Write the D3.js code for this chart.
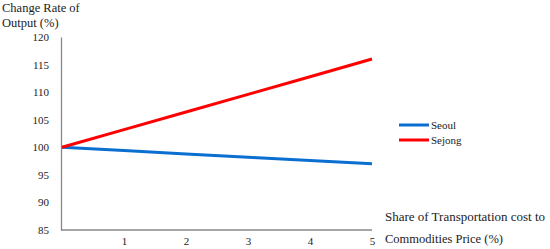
<!DOCTYPE html>
<html>
<head>
<script src="https://d3js.org/d3.v7.min.js"></script>
<style>
  body { margin: 0; background: #fff; }
  text { font-family: "Liberation Serif", "DejaVu Serif", serif; fill: #222; }
</style>
</head>
<body>
<svg id="chart" width="550" height="249"></svg>
<script>
// data
var shares = [0, 1, 2, 3, 4, 5];
var seoul = [100, 99.4, 98.8, 98.2, 97.6, 97.0];
var sejong = [100, 103.2, 106.4, 109.6, 112.8, 116.0];
var yTicks = [85, 90, 95, 100, 105, 110, 115, 120];
var xTicks = [1, 2, 3, 4, 5];
var seriesNames = ["Seoul", "Sejong"];
var seriesColors = ["#0a6fd0", "#ff0000"];

var svg = d3.select("#chart");

var x = d3.scaleLinear().domain([0, 5]).range([62, 372]);
var y = d3.scaleLinear().domain([85, 120]).range([230, 37]);

// y axis
var yAxis = d3.axisLeft(y).tickValues(yTicks).tickSize(0).tickPadding(12).tickFormat(d3.format("d"));
var gy = svg.append("g").attr("transform", "translate(61,0)").call(yAxis);
gy.select(".domain").attr("stroke", "#888").attr("stroke-width", 1.3);
gy.selectAll("text").style("font-size", "11px").attr("fill", "#222");

// x axis
var xAxis = d3.axisBottom(x).tickValues(xTicks).tickSize(0).tickPadding(7).tickFormat(d3.format("d"));
var gx = svg.append("g").attr("transform", "translate(0,230)").call(xAxis);
gx.select(".domain").attr("stroke", "#888").attr("stroke-width", 1.3).attr("d", "M61,0H372");
gx.selectAll("text").style("font-size", "11px").attr("fill", "#222");

// lines
var line = d3.line().x(function (d, i) { return x(shares[i]); }).y(function (d) { return y(d); });
[seoul, sejong].forEach(function (s, i) {
    svg.append("path")
        .attr("d", line(s))
        .attr("fill", "none")
        .attr("stroke", seriesColors[i])
        .attr("stroke-width", 3);
});

// legend
seriesNames.forEach(function (n, i) {
    var ly = 125 + i * 15;
    svg.append("line").attr("x1", 399).attr("x2", 429).attr("y1", ly).attr("y2", ly)
        .attr("stroke", seriesColors[i]).attr("stroke-width", 3);
    svg.append("text").attr("x", 431).attr("y", ly + 4).style("font-size", "11px").text(n);
});

// axis titles
svg.append("text").attr("x", 2).attr("y", 12).style("font-size", "12.5px").text("Change Rate of");
svg.append("text").attr("x", 2).attr("y", 27).style("font-size", "12.5px").text("Output (%)");
svg.append("text").attr("x", 385).attr("y", 221).style("font-size", "12.5px")
    .attr("textLength", 160).attr("lengthAdjust", "spacingAndGlyphs").text("Share of Transportation cost to");
svg.append("text").attr("x", 385).attr("y", 243).style("font-size", "12.5px")
    .attr("textLength", 118).attr("lengthAdjust", "spacingAndGlyphs").text("Commodities Price (%)");
</script>
</body>
</html>
